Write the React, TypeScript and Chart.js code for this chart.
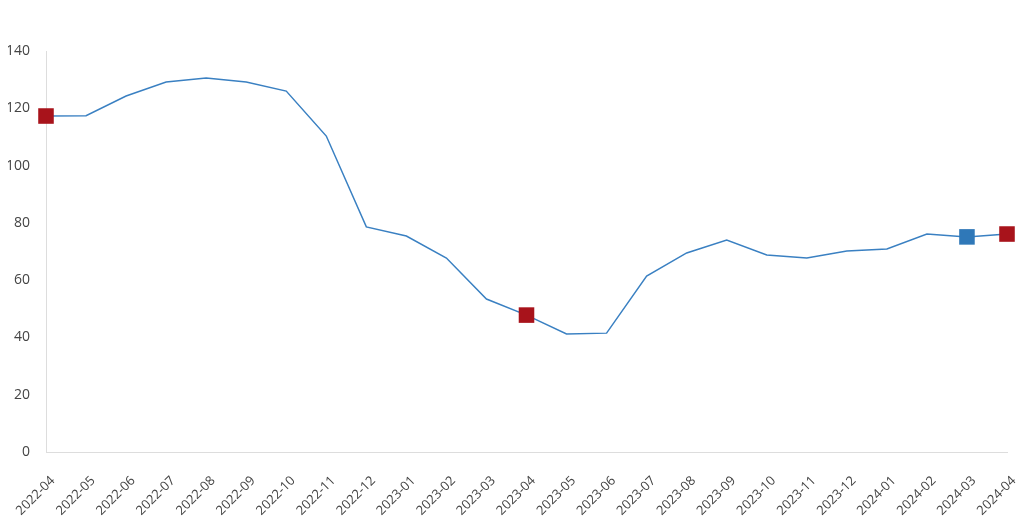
import React, { useEffect, useRef } from "react";
import { Chart, registerables } from "chart.js";

Chart.register(...registerables);

const categories = [
  "2022-04", "2022-05", "2022-06", "2022-07", "2022-08", "2022-09", "2022-10",
  "2022-11", "2022-12", "2023-01", "2023-02", "2023-03", "2023-04", "2023-05",
  "2023-06", "2023-07", "2023-08", "2023-09", "2023-10", "2023-11", "2023-12",
  "2024-01", "2024-02", "2024-03", "2024-04",
];

const values = [
  117.3, 117.4, 124.3, 129.2, 130.6, 129.2, 126.0, 110.3, 78.6, 75.4, 67.7,
  53.4, 47.8, 41.2, 41.5, 61.4, 69.5, 74.0, 68.8, 67.7, 70.2, 70.9, 76.1, 75.1, 76.1,
];

const redMarkers = ["2022-04", "2023-04", "2024-04"];
const blueMarkers = ["2024-03"];

const yTicks = [0, 20, 40, 60, 80, 100, 120, 140];

export default function App() {
  const ref = useRef<HTMLCanvasElement | null>(null);

  useEffect(() => {
    document.body.style.margin = "0";
    const canvas = ref.current;
    if (!canvas) return;
    const radii = categories.map((c) =>
      redMarkers.includes(c) || blueMarkers.includes(c) ? 11 : 0
    );
    const colors = categories.map((c) =>
      redMarkers.includes(c) ? "#a8131b" : blueMarkers.includes(c) ? "#2f78b8" : "#3a80c2"
    );
    const chart = new Chart(canvas, {
      type: "line",
      data: {
        labels: categories,
        datasets: [
          {
            data: values,
            borderColor: "#3a80c2",
            borderWidth: 1.5,
            tension: 0,
            pointStyle: "rect",
            pointRadius: radii,
            pointHoverRadius: radii,
            pointBackgroundColor: colors,
            pointBorderColor: colors,
            pointBorderWidth: 0,
          },
        ],
      },
      options: {
        animation: false,
        responsive: false,
        plugins: { legend: { display: false }, tooltip: { enabled: false } },
        layout: { padding: { top: 51, right: 17, left: 8, bottom: 0 } },
        scales: {
          x: {
            grid: { display: false, drawTicks: false },
            border: { display: true, color: "#dddddd", width: 1 },
            afterFit: (axis: any) => {
              axis.paddingLeft = 0;
              axis.paddingRight = 0;
              axis.height = 68;
            },
            ticks: {
              color: "#444444",
              font: { family: "'Open Sans'", size: 13 },
              maxRotation: 45,
              minRotation: 45,
              autoSkip: false,
              padding: 21,
              labelOffset: 7,
            },
          },
          y: {
            min: 0,
            max: 140,
            grid: { display: false, drawTicks: false },
            border: { display: true, color: "#dddddd", width: 1 },
            afterBuildTicks: (axis: any) => {
              axis.ticks = yTicks.map((v) => ({ value: v }));
            },
            afterFit: (axis: any) => {
              axis.width = 38;
              axis.paddingTop = 0;
              axis.paddingBottom = 0;
            },
            ticks: {
              color: "#444444",
              font: { family: "'Open Sans'", size: 14 },
              padding: 16,
            },
          },
        },
      },
    });
    return () => chart.destroy();
  }, []);

  return <canvas ref={ref} width={1024} height={520} style={{ display: "block" }} />;
}
